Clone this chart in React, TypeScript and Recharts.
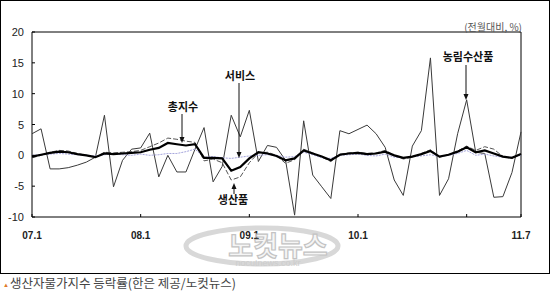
import React from 'react';
import { LineChart, Line, XAxis, YAxis, ReferenceArea } from 'recharts';

const months = [
  '07.1', '07.2', '07.3', '07.4', '07.5', '07.6', '07.7', '07.8', '07.9', '07.10', '07.11', '07.12',
  '08.1', '08.2', '08.3', '08.4', '08.5', '08.6', '08.7', '08.8', '08.9', '08.10', '08.11', '08.12',
  '09.1', '09.2', '09.3', '09.4', '09.5', '09.6', '09.7', '09.8', '09.9', '09.10', '09.11', '09.12',
  '10.1', '10.2', '10.3', '10.4', '10.5', '10.6', '10.7', '10.8', '10.9', '10.10', '10.11', '10.12',
  '11.1', '11.2', '11.3', '11.4', '11.5', '11.6', '11.7',
];

// 농림수산품
const agri = [
  3.5, 4.3, -2.2, -2.2, -2.0, -1.6, -1.1, -0.3, 6.5, -5.1,
  -0.8, 1.0, 1.2, 3.6, -3.5, 0.0, -2.7, -2.7, 1.0, 4.5,
  -4.3, -1.8, 6.5, 3.0, 7.3, -1.0, 1.6, 1.3, -0.8, -9.7,
  5.6, -3.2, -5.1, -7.0, 4.0, 3.5, 4.2, 4.9, 3.5, 1.3,
  -4.0, -6.5, 1.5, 4.0, 15.8, -6.5, -3.8, 3.5, 9.0, 0.5,
  0.3, -6.8, -6.7, -2.8, 3.8,
];

// 총지수
const total = [
  -0.2, 0.1, 0.4, 0.6, 0.5, 0.2, 0.0, -0.3, 0.3, 0.2,
  0.3, 0.4, 0.5, 0.9, 1.2, 2.0, 1.8, 1.6, 1.8, -0.4,
  -0.4, -0.5, -2.5, -1.9, -0.5, 0.5, 0.3, -0.1, -0.8, -0.5,
  0.8, 0.3, -0.2, -0.8, 0.1, 0.3, 0.4, 0.2, 0.3, 0.6,
  0.0, -0.4, -0.2, 0.2, 0.7, -0.2, 0.1, 0.6, 1.3, 0.5,
  0.8, 0.3, -0.2, -0.4, 0.2,
];

// 생산품
const product = [
  -0.4, 0.0, 0.5, 0.8, 0.7, 0.3, 0.0, -0.3, 0.5, 0.4,
  0.5, 0.6, 0.8, 1.4, 2.0, 2.8, 2.6, 2.3, 2.1, -0.9,
  -0.6, -1.2, -4.0, -3.5, -1.2, 0.4, 0.5, 0.0, -1.3, -0.7,
  1.0, 0.4, -0.3, -1.0, 0.2, 0.4, 0.5, 0.3, 0.4, 0.8,
  0.0, -0.6, -0.3, 0.3, 0.9, -0.3, 0.1, 0.7, 1.5, 0.8,
  1.4, 1.0, -0.2, -0.5, 0.3,
];

// 서비스
const services = [
  0.0, 0.1, 0.2, 0.3, 0.2, 0.1, 0.0, -0.1, 0.1, 0.2,
  0.1, 0.0, 0.2, 0.0, 0.1, 0.3, 0.3, 0.6, 1.0, -0.3,
  -0.2, -0.4, -0.5, -0.3, -0.1, 0.0, 0.1, 0.0, -0.3, -0.2,
  0.5, 0.1, -0.4, -0.5, 0.0, 0.1, 0.2, 0.0, -0.1, 0.2,
  -0.3, -0.4, -0.2, -0.1, 0.1, -0.2, 0.0, 0.3, 0.8, 0.0,
  0.2, -0.1, -0.3, -0.3, 0.0,
];

const xTicks = ['07.1', '08.1', '09.1', '10.1', '11.1', '11.7'];
const xLabels = ['07.1', '08.1', '09.1', '10.1', '11.7'];
const yTicks = [-10, -5, 0, 5, 10, 15, 20];

const data = months.map((m, i) => ({
  month: m,
  agri: agri[i],
  total: total[i],
  product: product[i],
  services: services[i],
}));

const tickFont = '"Liberation Sans", Arial, sans-serif';
const labelFont = '"Noto Sans CJK KR", sans-serif';

const XTick = ({ x, y, payload }: any) => (
  <g>
    <line x1={x} x2={x} y1={y} y2={y - 3} stroke="#000" />
    {xLabels.includes(payload.value) && (
      <text x={x} y={y + 22} textAnchor="middle" fontSize={10} fontWeight="bold" fill="#222" fontFamily={tickFont}>
        {payload.value}
      </text>
    )}
  </g>
);

const YTick = ({ x, y, payload }: any) => (
  <g>
    <line x1={x} x2={x + 3} y1={y} y2={y} stroke="#000" />
    <text x={x - 8} y={y + 4} textAnchor="end" fontSize={11} fill="#222" fontFamily={tickFont}>
      {payload.value}
    </text>
  </g>
);

const Arrow = ({ x, y1, y2 }: { x: number; y1: number; y2: number }) => {
  const dir = y2 > y1 ? 1 : -1;
  return (
    <g>
      <line x1={x} x2={x} y1={y1} y2={y2 - dir * 4} stroke="#111" strokeWidth={1} />
      <polygon points={`${x - 2.5},${y2 - dir * 6} ${x + 2.5},${y2 - dir * 6} ${x},${y2}`} fill="#111" />
    </g>
  );
};

export default function App() {
  return (
    <div style={{ position: 'absolute', left: 0, top: 0, width: 550, height: 292, background: '#fff', overflow: 'hidden' }}>
      <div style={{ position: 'absolute', left: 0, top: 0 }}>
        <LineChart width={550} height={274} data={data} margin={{ top: 32, right: 29, bottom: 0, left: 0 }}>
          <XAxis
            dataKey="month"
            ticks={xTicks}
            interval={0}
            height={57}
            axisLine={false}
            tickLine={false}
            tickSize={0}
            tickMargin={0}
            tick={<XTick />}
          />
          <YAxis
            type="number"
            domain={[-10, 20]}
            ticks={yTicks}
            width={32}
            axisLine={false}
            tickLine={false}
            tickSize={0}
            tickMargin={0}
            tick={<YTick />}
          />
          <ReferenceArea x1="07.1" x2="11.7" y1={-10} y2={20} fill="none" stroke="#000" strokeWidth={1} fillOpacity={0} />
          <Line dataKey="agri" stroke="#3a3a3a" strokeWidth={1} dot={false} isAnimationActive={false} />
          <Line dataKey="services" stroke="#a4a4dc" strokeWidth={1} strokeDasharray="2 1" dot={false} isAnimationActive={false} />
          <Line dataKey="product" stroke="#555" strokeWidth={1} strokeDasharray="5 2" dot={false} isAnimationActive={false} />
          <Line dataKey="total" stroke="#000" strokeWidth={2.2} dot={false} isAnimationActive={false} />
        </LineChart>
      </div>
      <svg width={550} height={292} style={{ position: 'absolute', left: 0, top: 0, pointerEvents: 'none' }}>
        <rect x={0.5} y={0.5} width={549} height={273} fill="none" stroke="#000" strokeWidth={1} />

        <text x={522} y={31} textAnchor="end" fontSize={10} fill="#555" fontFamily={labelFont}>(전월대비, %)</text>

        <text x={183} y={111} textAnchor="middle" fontSize={11} fontWeight="bold" fill="#111" fontFamily={labelFont}>총지수</text>
        <Arrow x={182} y1={114} y2={143} />

        <text x={240} y={80} textAnchor="middle" fontSize={11} fontWeight="bold" fill="#111" fontFamily={labelFont}>서비스</text>
        <Arrow x={239} y1={83} y2={158} />

        <text x={468} y={61} textAnchor="middle" fontSize={11} fontWeight="bold" fill="#111" fontFamily={labelFont}>농림수산품</text>
        <Arrow x={466} y1={65} y2={100} />

        <text x={233} y={204} textAnchor="middle" fontSize={11} fontWeight="bold" fill="#111" fontFamily={labelFont}>생산품</text>
        <Arrow x={234} y1={194} y2={183} />

        <g opacity={0.9}>
          <ellipse cx={262} cy={246} rx={76} ry={18} fill="none" stroke="#d4d4d4" strokeWidth={5} />
          <text x={278} y={256} textAnchor="middle" fontSize={27} fontWeight="bold" fill="#f4f4f4" stroke="#bdbdbd" strokeWidth={1.2} fontFamily={labelFont}>노컷뉴스</text>
          <text x={268} y={266} textAnchor="middle" fontSize={9} fill="#c8c8c8" fontFamily={tickFont}>nocutnews.co.kr</text>
        </g>

        <text x={3} y={287} fontSize={6} fill="#e07a2a">▲</text>
        <text x={10} y={288} fontSize={12.5} fill="#444" fontFamily={labelFont}>생산자물가지수 등락률(한은 제공/노컷뉴스)</text>
      </svg>
    </div>
  );
}
